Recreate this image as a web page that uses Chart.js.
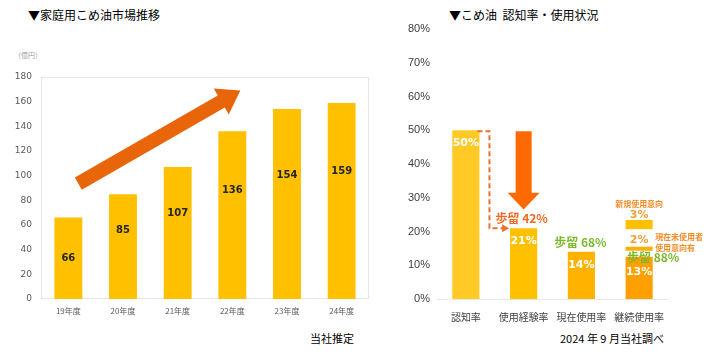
<!DOCTYPE html>
<html><head><meta charset="utf-8">
<script src="https://cdn.jsdelivr.net/npm/chart.js@4.4.1/dist/chart.umd.min.js"></script>
<style>
html,body{margin:0;padding:0;background:#fff;}
body{width:709px;height:358px;position:relative;overflow:hidden;font-family:"Noto Sans CJK JP","Noto Sans",sans-serif;}
.t{position:absolute;white-space:nowrap;color:#000;}
canvas{position:absolute;top:0;}
</style></head><body>
<div class="t" style="left:28px;top:6px;font-size:12px;">▼家庭用こめ油市場推移</div>
<div class="t" style="left:14px;top:50px;font-size:7px;color:#a0a0a0;">（億円）</div>
<div class="t" style="left:449px;top:6px;font-size:12px;">▼こめ油&nbsp;&nbsp;認知率・使用状況</div>
<div class="t" style="left:310px;top:330px;font-size:11px;">当社推定</div>
<div class="t" style="left:560px;top:330px;font-size:11px;">2024 年 9 月当社調べ</div>
<div style="position:absolute;left:0;top:0;width:380px;height:358px;"><canvas id="c1" width="380" height="358"></canvas></div>
<div style="position:absolute;left:380px;top:0;width:329px;height:358px;"><canvas id="c2" width="329" height="358"></canvas></div>
<script>
// ---- data ----
const marketYears = ['19年度','20年度','21年度','22年度','23年度','24年度'];
const marketValues = [66, 85, 107, 136, 154, 159];
const marketTicks = [0,20,40,60,80,100,120,140,160,180];

const rateCategories = ['認知率','使用経験率','現在使用率','継続使用率'];
const rateValues = [50, 21, 14, 12.5];
const rateLabels = ['50%','21%','14%','13%'];
const intentNowRange = [14.3, 15.5];   // 現在未使用者 使用意向有 2%
const intentNewRange = [20.7, 23.4];   // 新規使用意向 3%
const rateTicks = [0,10,20,30,40,50,60,70,80];

const JP = '"Noto Sans CJK JP","Noto Sans",sans-serif';

// ---- left chart ----
const leftDeco = {
  id:'leftDeco',
  beforeDatasetsDraw(chart){
    const {ctx, chartArea:a} = chart;
    ctx.save();
    ctx.strokeStyle = '#e6e6e6'; ctx.lineWidth = 1;
    ctx.strokeRect(a.left+0.5, a.top+0.5, a.right-a.left-1, a.bottom-a.top-1);
    ctx.restore();
  },
  afterDatasetsDraw(chart){
    const {ctx, scales:{x,y}} = chart;
    const meta = chart.getDatasetMeta(0);
    ctx.save();
    ctx.font = 'bold 10px "DejaVu Sans",sans-serif';
    ctx.fillStyle = '#262626'; ctx.textAlign='center'; ctx.textBaseline='middle';
    meta.data.forEach((b,i)=>{
      const v = marketValues[i];
      const f = i===0 ? 0.5 : 0.65;
      ctx.fillText(String(v), b.x, y.getPixelForValue(v*f));
    });
    // trend arrow
    const x0 = x.getPixelForValue(0)+10, y0 = y.getPixelForValue(93.5);
    const x1 = x.getPixelForValue(3)+8,  y1 = y.getPixelForValue(169);
    const ang = Math.atan2(y1-y0, x1-x0);
    const L = Math.hypot(x1-x0, y1-y0);
    const sw = 14, hl = 22, hw = 30;
    ctx.translate(x0,y0); ctx.rotate(ang);
    ctx.fillStyle = '#E8650A';
    ctx.beginPath();
    ctx.moveTo(0,-sw/2); ctx.lineTo(L-hl,-sw/2); ctx.lineTo(L-hl,-hw/2); ctx.lineTo(L,0);
    ctx.lineTo(L-hl,hw/2); ctx.lineTo(L-hl,sw/2); ctx.lineTo(0,sw/2); ctx.closePath();
    ctx.fill();
    ctx.restore();
  }
};
new Chart(document.getElementById('c1'),{
  type:'bar',
  data:{labels:marketYears,datasets:[{data:marketValues,backgroundColor:'#FFC000',barPercentage:0.51,categoryPercentage:1}]},
  options:{
    responsive:false,animation:false,
    layout:{padding:{top:77,right:11,left:0,bottom:0}},
    plugins:{legend:{display:false},tooltip:{enabled:false}},
    scales:{
      x:{grid:{display:false,drawTicks:false},border:{display:false},
         ticks:{color:'#595959',font:{size:8,family:JP},padding:7},
         afterFit(s){s.height=59;}},
      y:{min:0,max:180,grid:{display:false,drawTicks:false},border:{display:false},
         afterBuildTicks(s){s.ticks=marketTicks.map(v=>({value:v}));},
         ticks:{color:'#595959',font:{size:9,family:'"DejaVu Sans",sans-serif'},padding:9},
         afterFit(s){s.width=41;}}
    }
  },
  plugins:[leftDeco]
});

// ---- right chart ----
const rightDeco = {
  id:'rightDeco',
  beforeDatasetsDraw(chart){
    const {ctx, chartArea:a} = chart;
    ctx.save();
    ctx.strokeStyle='#e8e8e8'; ctx.lineWidth=1;
    ctx.beginPath(); ctx.moveTo(a.left, a.bottom+0.5); ctx.lineTo(a.right, a.bottom+0.5); ctx.stroke();
    ctx.restore();
  },
  afterDatasetsDraw(chart){
    const {ctx, scales:{x,y}} = chart;
    const meta = chart.getDatasetMeta(0);
    ctx.save();
    ctx.textAlign='center'; ctx.textBaseline='middle';
    ctx.font = 'bold 11px "DejaVu Sans",sans-serif';
    ctx.fillStyle='#ffffff';
    meta.data.forEach((b,i)=>{
      ctx.fillText(rateLabels[i], b.x, y.getPixelForValue(rateValues[i]) + (i===3?15:13));
    });
    const b0 = meta.data[0], b1 = meta.data[1], b3 = meta.data[3];
    // dashed connector
    const yTop = y.getPixelForValue(rateValues[0]);
    const yMid = y.getPixelForValue(rateValues[1]);
    const xr = b0.x + b0.width/2;
    const xv = xr + 10;
    ctx.strokeStyle='#EE7030'; ctx.lineWidth=2; ctx.setLineDash([5,3]);
    ctx.beginPath(); ctx.moveTo(xr-2,yTop+1); ctx.lineTo(xv,yTop+1); ctx.lineTo(xv,yMid); ctx.lineTo(b1.x-b1.width/2-6,yMid); ctx.stroke();
    ctx.setLineDash([]);
    ctx.fillStyle='#EE7030';
    const ax = b1.x-b1.width/2-1;
    ctx.beginPath(); ctx.moveTo(ax,yMid); ctx.lineTo(ax-7,yMid-4); ctx.lineTo(ax-7,yMid+4); ctx.closePath(); ctx.fill();
    // big down arrow
    const cx = b1.x;
    const aTop = yTop+1, hb = y.getPixelForValue(31.5), tip = y.getPixelForValue(26.5);
    ctx.fillStyle='#FF6A00';
    ctx.beginPath();
    ctx.moveTo(cx-8,aTop); ctx.lineTo(cx+8,aTop); ctx.lineTo(cx+8,hb); ctx.lineTo(cx+16,hb);
    ctx.lineTo(cx,tip); ctx.lineTo(cx-16,hb); ctx.lineTo(cx-8,hb); ctx.closePath(); ctx.fill();
    // yield labels
    ctx.font='bold 12px '+JP;
    ctx.fillStyle='#EE6A1E';
    ctx.fillText('歩留 42%', b1.x-2, y.getPixelForValue(24)+0.5);
    ctx.fillStyle='#7AB92B';
    ctx.fillText('歩留 68%', meta.data[2].x-1, y.getPixelForValue(16.8));
    ctx.fillText('歩留 88%', b3.x+14, y.getPixelForValue(12.2));
    // intent labels
    ctx.fillStyle='#F0A035';
    ctx.font='bold 11px "DejaVu Sans",sans-serif';
    ctx.fillText('3%', b3.x, y.getPixelForValue(24.8));
    ctx.fillText('2%', b3.x, y.getPixelForValue(17.3));
    ctx.font='bold 8px '+JP;
    ctx.fillStyle='#F08C28';
    ctx.fillText('新規使用意向', b3.x, y.getPixelForValue(28.3));
    ctx.textAlign='left';
    ctx.fillText('現在未使用者', b3.x+16, y.getPixelForValue(18.4));
    ctx.fillText('使用意向有', b3.x+16, y.getPixelForValue(15.2));
    ctx.restore();
  }
};
new Chart(document.getElementById('c2'),{
  type:'bar',
  data:{labels:rateCategories,datasets:[
    {data:rateValues,backgroundColor:['#FFC926','#FFC000','#FFB300','#FFA000'],barPercentage:0.47,categoryPercentage:1,grouped:false},
    {data:[null,null,null,intentNowRange],backgroundColor:'#FFB000',barPercentage:0.47,categoryPercentage:1,grouped:false},
    {data:[null,null,null,intentNewRange],backgroundColor:'#FFC000',barPercentage:0.47,categoryPercentage:1,grouped:false}
  ]},
  options:{
    responsive:false,animation:false,
    layout:{padding:{top:29,right:41,left:0,bottom:0}},
    plugins:{legend:{display:false},tooltip:{enabled:false}},
    scales:{
      x:{grid:{display:false,drawTicks:false},border:{display:false},
         ticks:{color:'#404040',font:{size:10,family:JP},padding:12},
         afterFit(s){s.height=59;}},
      y:{min:0,max:80,grid:{display:false,drawTicks:false},border:{display:false},
         afterBuildTicks(s){s.ticks=rateTicks.map(v=>({value:v}));},
         ticks:{color:'#404040',font:{size:11,family:'"Liberation Sans",sans-serif'},padding:7,callback:v=>v+'%'},
         afterFit(s){s.width=57;}}
    }
  },
  plugins:[rightDeco]
});
</script>
</body></html>
